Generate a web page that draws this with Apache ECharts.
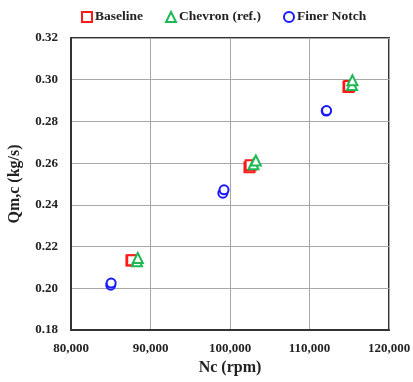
<!DOCTYPE html>
<html>
<head>
<meta charset="utf-8">
<script src="https://cdn.jsdelivr.net/npm/echarts@6/dist/echarts.min.js"></script>
<style>
  html, body { margin: 0; padding: 0; background: #fff; }
  #chart { width: 413px; height: 382px; }
</style>
</head>
<body>
<div id="chart"></div>
<script>
// Corrected mass flow vs corrected speed, three inlet geometries
const seriesNames = ['Baseline', 'Chevron (ref.)', 'Finer Notch'];

// [Nc (rpm), Qm,c (kg/s)]
const baseline = [
  [87600, 0.2133], [87700, 0.2135],
  [102450, 0.2580], [102600, 0.2590],
  [114900, 0.2965], [115000, 0.2970]
];
const chevron = [
  [88300, 0.2130], [88400, 0.2145],
  [102950, 0.2595], [103250, 0.2613],
  [115350, 0.2975], [115400, 0.2997]
];
const finerNotch = [
  [85000, 0.2015], [85050, 0.2025],
  [99100, 0.2456], [99250, 0.2472],
  [112100, 0.2850], [112150, 0.2852]
];

const xTicks = { min: 80000, max: 120000, interval: 10000 };
const yTicks = { min: 0.18, max: 0.32, interval: 0.02 };

const colors = ['#ff1a1a', '#1db954', '#1a1aff'];
const fontFamily = '"Liberation Serif", "Times New Roman", serif';

const chart = echarts.init(document.getElementById('chart'));

function makeSeries(name, data, symbol, color, size) {
  return {
    name: name,
    type: 'scatter',
    data: data,
    symbol: symbol,
    symbolSize: size,
    itemStyle: { color: '#fff', borderColor: color, borderWidth: 2, opacity: 1 },
    emphasis: { disabled: true }
  };
}

chart.setOption({
  animation: false,
  textStyle: { fontFamily: fontFamily },
  legend: {
    top: 5,
    left: 76,
    itemGap: 22,
    itemWidth: 10,
    itemHeight: 10,
    textStyle: { fontFamily: fontFamily, fontWeight: 'bold', fontSize: 13.5, color: '#222', padding: [0, 0, 0, -2] },
    data: seriesNames
  },
  grid: {
    left: 71, right: 24, top: 38, bottom: 52,
    containLabel: false,
    outerBoundsMode: 'none',
    show: true, borderColor: '#333', borderWidth: 2
  },
  xAxis: {
    type: 'value',
    min: xTicks.min, max: xTicks.max, interval: xTicks.interval,
    name: 'Nc (rpm)',
    nameLocation: 'middle',
    nameGap: 30,
    nameTextStyle: { fontFamily: fontFamily, fontWeight: 'bold', fontSize: 16, color: '#222' },
    axisLine: { lineStyle: { color: '#333', width: 2 } },
    axisTick: { show: false },
    splitLine: { show: true, lineStyle: { color: '#a8a8a8', width: 1 } },
    axisLabel: {
      margin: 12,
      fontFamily: fontFamily, fontWeight: 'bold', fontSize: 13, color: '#222',
      formatter: v => v.toLocaleString('en-US')
    }
  },
  yAxis: {
    type: 'value',
    min: yTicks.min, max: yTicks.max, interval: yTicks.interval,
    name: 'Qm,c (kg/s)',
    nameLocation: 'middle',
    nameGap: 48,
    nameTextStyle: { fontFamily: fontFamily, fontWeight: 'bold', fontSize: 16, color: '#222' },
    axisLine: { lineStyle: { color: '#333', width: 2 } },
    axisTick: { show: false },
    splitLine: { show: true, lineStyle: { color: '#a8a8a8', width: 1 } },
    axisLabel: {
      margin: 13,
      fontFamily: fontFamily, fontWeight: 'bold', fontSize: 13, color: '#222',
      formatter: v => v.toFixed(2)
    }
  },
  series: [
    makeSeries(seriesNames[0], baseline, 'rect', colors[0], 10),
    makeSeries(seriesNames[1], chevron, 'triangle', colors[1], 10),
    makeSeries(seriesNames[2], finerNotch, 'circle', colors[2], 9)
  ]
});
</script>
</body>
</html>
